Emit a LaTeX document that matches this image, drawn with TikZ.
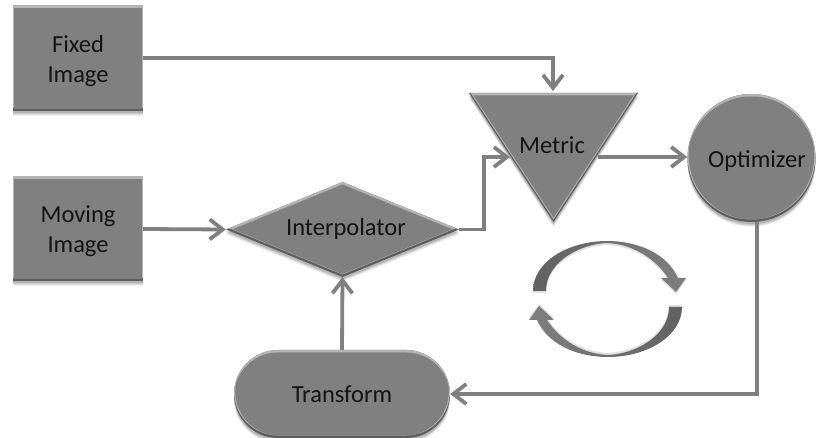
\documentclass[tikz,border=0pt]{standalone}
\usepackage{fontspec}
\setmainfont{Carlito}
\usetikzlibrary{arrows.meta,shapes.geometric}
\definecolor{bodygray}{HTML}{808080}
\definecolor{lightedge}{HTML}{B4B4B4}
\definecolor{darkedge}{HTML}{5E5E5E}
\definecolor{linegray}{HTML}{808080}
\newcommand{\bevelshape}[1]{%
  \foreach \s/\o in {5/0.05,4/0.07,3/0.09,2/0.11}{\fill[black,opacity=\o,yshift=-\s pt] #1;}
  \fill[darkedge] #1;
  \begin{scope}
    \clip #1;
    \fill[lightedge,yshift=2.5pt] #1;
    \begin{scope}[yshift=-2.5pt]
      \clip #1;
      \begin{scope}[yshift=5pt,xshift=1.2pt]
        \clip #1;
        \begin{scope}[xshift=-2.4pt]
          \clip #1;
          \fill[bodygray] (-10,-10) rectangle (830,450);
        \end{scope}
      \end{scope}
    \end{scope}
  \end{scope}}
\tikzset{
  x=1pt,y=-1pt,
  label text/.style={font=\fontsize{24.5}{30}\selectfont,text=black!92,align=center,inner sep=0pt},
  connector/.style={draw=linegray,line width=3.8pt,-{Straight Barb[length=13pt,width=20pt,line width=3.8pt]}},
  cycle arrow/.style={draw=none}
}
\begin{document}
\begin{tikzpicture}
\useasboundingbox (0,0) rectangle (817,438);
\fill[white] (0,0) rectangle (817,438);
% shapes
\bevelshape{(13,6) rectangle (143,111)}
\bevelshape{(13,177) rectangle (143,281)}
\bevelshape{(226,229.5) -- (342.5,182) -- (459,229.5) -- (342.5,277) -- cycle}
\bevelshape{(469,93) -- (638,93) -- (553.5,222) -- cycle}
\bevelshape{(751.5,158) circle[radius=64]}
\bevelshape{(278,350) -- (406,350) arc[start angle=-90,end angle=90,radius=44] -- (278,438) arc[start angle=90,end angle=270,radius=44] -- cycle}
% labelled nodes
\node[rectangle,minimum width=130pt,minimum height=105pt,inner sep=0pt] (fixed) at (78,58) {};
\node[label text] (fixedlabel) at (78,61) {Fixed\\Image};
\node[rectangle,minimum width=130pt,minimum height=104pt,inner sep=0pt] (moving) at (78,229) {};
\node[label text] (movinglabel) at (78,231) {Moving\\Image};
\node[diamond,aspect=2.45,minimum width=233pt,minimum height=95pt,inner sep=0pt] (interp) at (342.5,229.5) {};
\node[label text] (interplabel) at (346,228.5) {Interpolator};
\node[label text] (metric) at (552,145) {Metric};
\node[circle,minimum size=128pt,inner sep=0pt] (opt) at (751.5,158) {};
\node[label text] (optlabel) at (757,161) {Optimizer};
\node[rectangle,minimum width=216pt,minimum height=88pt,inner sep=0pt] (transform) at (342,394) {};
\node[label text] (transformlabel) at (342,394) {Transform};
\coordinate (metrictop) at (553,91);
\coordinate (metricleft) at (510,157);
\coordinate (metricright) at (598,157);
% connectors
\draw[connector] (fixed.east) -| (metrictop);
\draw[connector] (moving.east) -- (interp.west);
\draw[connector] (interp.east) -- (484,229.5) |- (metricleft);
\draw[connector] (metricright) -- (opt.west |- metricright);
\draw[connector] (opt.-85) |- (transform.east);
\draw[connector] (transform.north) -- (interp.south);
% cycle arrows
\foreach \a/\lc/\rc in {0/62/50,180/50/62}{
  \begin{scope}[rotate around={\a:(607.5,299)}]
    \fill[black,opacity=0.12,yshift=-2pt]
      (533,291) .. controls (533,262) and (568,241) .. (607,241)
      .. controls (640,241) and (668,255) .. (678,278) -- (686,278) -- (676,292) -- (661,278) -- (668,278)
      .. controls (655,258) and (632,244) .. (607,243)
      .. controls (580,244) and (546,262) .. (546,291) -- cycle;
    \shade[cycle arrow,left color=black!\lc,right color=black!\rc]
      (533,291) .. controls (533,262) and (568,241) .. (607,241)
      .. controls (640,241) and (668,255) .. (678,278) -- (686,278) -- (676,292) -- (661,278) -- (668,278)
      .. controls (655,258) and (632,244) .. (607,243)
      .. controls (580,244) and (546,262) .. (546,291) -- cycle;
  \end{scope}
}
\end{tikzpicture}
\end{document}
